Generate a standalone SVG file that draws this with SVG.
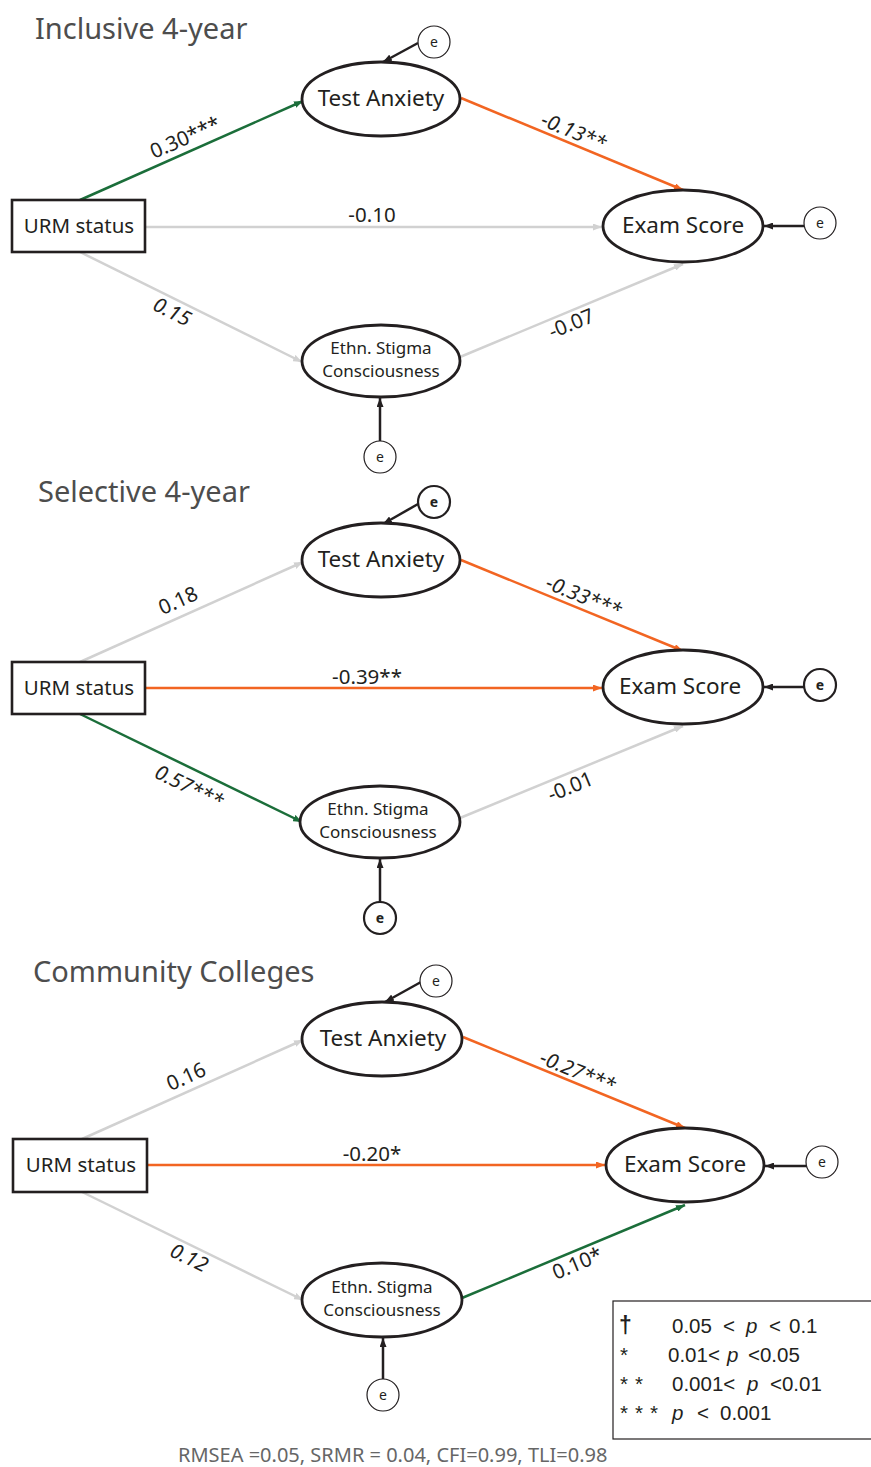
<svg xmlns="http://www.w3.org/2000/svg" width="871" height="1467" viewBox="0 0 871 1467">
<style>
.title{font-family:"Noto Sans",sans-serif;font-size:29px;fill:#4d4d4d}
.nd{fill:#fff;stroke:#231f20;stroke-width:2.8}
.box{fill:#fff;stroke:#231f20;stroke-width:2.6}
.lbl{font-family:"Noto Sans",sans-serif;font-size:22.5px;fill:#231f20;text-anchor:middle}
.urm{font-family:"Noto Sans",sans-serif;font-size:20.5px;fill:#231f20;text-anchor:middle}
.sm{font-family:"Noto Sans",sans-serif;font-size:17px;fill:#231f20;text-anchor:middle}
.ec{fill:#fff;stroke:#231f20;stroke-width:1.2}
.ecb{fill:#fff;stroke:#231f20;stroke-width:2.2}
.et{font-family:"Noto Sans",sans-serif;font-size:14px;fill:#231f20;text-anchor:middle}
.etb{font-family:"Noto Sans",sans-serif;font-size:14px;font-weight:bold;fill:#231f20;text-anchor:middle}
.coef{font-family:"Noto Sans",sans-serif;font-size:20.5px;fill:#231f20;text-anchor:middle}
.it{font-style:italic}
.g{stroke:#1b6e3a;stroke-width:2.5;fill:none;marker-end:url(#ag)}
.o{stroke:#f26522;stroke-width:2.5;fill:none;marker-end:url(#ao)}
.n{stroke:#d1d1d1;stroke-width:2.5;fill:none;marker-end:url(#an)}
.k{stroke:#231f20;stroke-width:2.5;fill:none;marker-end:url(#ak)}
.lg{font-family:"Liberation Sans",Arial,sans-serif;font-size:20.5px;fill:#231f20}
.foot{font-family:"Noto Sans",sans-serif;font-size:20px;fill:#666}
</style>
<defs>
<marker id="ag" markerUnits="userSpaceOnUse" markerWidth="9" markerHeight="7" refX="9" refY="3.5" orient="auto"><path d="M0,0 L9,3.5 L0,7 z" fill="#1b6e3a"/></marker>
<marker id="ao" markerUnits="userSpaceOnUse" markerWidth="9" markerHeight="7" refX="9" refY="3.5" orient="auto"><path d="M0,0 L9,3.5 L0,7 z" fill="#f26522"/></marker>
<marker id="an" markerUnits="userSpaceOnUse" markerWidth="9" markerHeight="7" refX="9" refY="3.5" orient="auto"><path d="M0,0 L9,3.5 L0,7 z" fill="#d1d1d1"/></marker>
<marker id="ak" markerUnits="userSpaceOnUse" markerWidth="9" markerHeight="7" refX="9" refY="3.5" orient="auto"><path d="M0,0 L9,3.5 L0,7 z" fill="#231f20"/></marker>
</defs>
<rect width="871" height="1467" fill="#fff"/>

<g id="titles">
<text class="title" x="35" y="39">Inclusive 4-year</text>
<text class="title" x="38" y="502">Selective 4-year</text>
<text class="title" x="33" y="982">Community Colleges</text>
</g>

<g id="connectors">
<!-- panel 1 -->
<line class="g" x1="80" y1="200" x2="303" y2="101"/>
<line class="o" x1="461" y1="98" x2="683" y2="190"/>
<line class="n" x1="145" y1="227" x2="602" y2="227"/>
<line class="n" x1="80" y1="252" x2="302" y2="362"/>
<line class="n" x1="460" y1="357" x2="683" y2="264"/>
<line class="k" x1="418" y1="43" x2="383" y2="62"/>
<line class="k" x1="804" y1="226" x2="764" y2="226"/>
<line class="k" x1="380" y1="441" x2="380" y2="398"/>
<!-- panel 2 -->
<line class="n" x1="80" y1="662" x2="303" y2="562"/>
<line class="o" x1="461" y1="560" x2="683" y2="651"/>
<line class="o" x1="145" y1="688" x2="602" y2="688"/>
<line class="g" x1="80" y1="714" x2="302" y2="822"/>
<line class="n" x1="460" y1="818" x2="683" y2="726"/>
<line class="k" x1="418" y1="504" x2="383" y2="524"/>
<line class="k" x1="804" y1="687" x2="764" y2="687"/>
<line class="k" x1="380" y1="902" x2="380" y2="859"/>
<!-- panel 3 -->
<line class="n" x1="82" y1="1139" x2="303" y2="1040"/>
<line class="o" x1="463" y1="1037" x2="685" y2="1128"/>
<line class="o" x1="147" y1="1165" x2="605" y2="1165"/>
<line class="n" x1="82" y1="1192" x2="303" y2="1300"/>
<line class="g" x1="462" y1="1298" x2="685" y2="1205"/>
<line class="k" x1="421" y1="982" x2="385" y2="1002"/>
<line class="k" x1="807" y1="1166" x2="765" y2="1166"/>
<line class="k" x1="383" y1="1379" x2="383" y2="1338"/>
</g>

<g id="coefficients">
<text class="coef" transform="translate(188,144) rotate(-23.9)">0.30***</text>
<text class="coef it" transform="translate(571,138) rotate(22.4)">-0.13**</text>
<text class="coef" x="372" y="222">-0.10</text>
<text class="coef it" transform="translate(169,318) rotate(26.4)">0.15</text>
<text class="coef" transform="translate(574,330) rotate(-22.6)">-0.07</text>

<text class="coef" transform="translate(181,607) rotate(-24.2)">0.18</text>
<text class="coef it" transform="translate(581,603) rotate(22.2)">-0.33***</text>
<text class="coef" x="367" y="684">-0.39**</text>
<text class="coef it" transform="translate(186,793) rotate(25.9)">0.57***</text>
<text class="coef" transform="translate(573,793) rotate(-22.4)">-0.01</text>

<text class="coef" transform="translate(189,1083) rotate(-24.1)">0.16</text>
<text class="coef it" transform="translate(575,1078) rotate(22.2)">-0.27***</text>
<text class="coef" x="372" y="1161">-0.20*</text>
<text class="coef it" transform="translate(186,1264) rotate(26)">0.12</text>
<text class="coef" transform="translate(580,1270) rotate(-22.6)">0.10*</text>
</g>

<!-- Panel 1 nodes -->
<g id="p1-urm"><rect class="box" x="12" y="200" width="133" height="52"/><text class="urm" x="79" y="233">URM status</text></g>
<g id="p1-anxiety"><ellipse class="nd" cx="381" cy="99" rx="79" ry="37"/><text class="lbl" x="381" y="106">Test Anxiety</text></g>
<g id="p1-exam"><ellipse class="nd" cx="683" cy="226" rx="80" ry="36"/><text class="lbl" x="683" y="233">Exam Score</text></g>
<g id="p1-stigma"><ellipse class="nd" cx="381" cy="361" rx="79" ry="36"/><text class="sm" x="381" y="354">Ethn. Stigma</text><text class="sm" x="381" y="377">Consciousness</text></g>
<g id="p1-e1"><circle class="ec" cx="434" cy="42" r="16"/><text class="et" x="434" y="47">e</text></g>
<g id="p1-e2"><circle class="ec" cx="820" cy="223" r="16"/><text class="et" x="820" y="228">e</text></g>
<g id="p1-e3"><circle class="ec" cx="380" cy="457" r="16"/><text class="et" x="380" y="462">e</text></g>

<!-- Panel 2 nodes -->
<g id="p2-urm"><rect class="box" x="12" y="662" width="133" height="52"/><text class="urm" x="79" y="695">URM status</text></g>
<g id="p2-anxiety"><ellipse class="nd" cx="381" cy="560" rx="79" ry="37"/><text class="lbl" x="381" y="567">Test Anxiety</text></g>
<g id="p2-exam"><ellipse class="nd" cx="683" cy="687" rx="80" ry="37"/><text class="lbl" x="680" y="694">Exam Score</text></g>
<g id="p2-stigma"><ellipse class="nd" cx="380" cy="822" rx="80" ry="36"/><text class="sm" x="378" y="815">Ethn. Stigma</text><text class="sm" x="378" y="838">Consciousness</text></g>
<g id="p2-e1"><circle class="ecb" cx="434" cy="502" r="16"/><text class="etb" x="434" y="507">e</text></g>
<g id="p2-e2"><circle class="ecb" cx="820" cy="685" r="16"/><text class="etb" x="820" y="690">e</text></g>
<g id="p2-e3"><circle class="ecb" cx="380" cy="918" r="16"/><text class="etb" x="380" y="923">e</text></g>

<!-- Panel 3 nodes -->
<g id="p3-urm"><rect class="box" x="13" y="1139" width="134" height="53"/><text class="urm" x="81" y="1172">URM status</text></g>
<g id="p3-anxiety"><ellipse class="nd" cx="382" cy="1039" rx="80" ry="37"/><text class="lbl" x="383" y="1046">Test Anxiety</text></g>
<g id="p3-exam"><ellipse class="nd" cx="685" cy="1165" rx="79" ry="37"/><text class="lbl" x="685" y="1172">Exam Score</text></g>
<g id="p3-stigma"><ellipse class="nd" cx="382" cy="1300" rx="80" ry="37"/><text class="sm" x="382" y="1293">Ethn. Stigma</text><text class="sm" x="382" y="1316">Consciousness</text></g>
<g id="p3-e1"><circle class="ec" cx="436" cy="981" r="16"/><text class="et" x="436" y="986">e</text></g>
<g id="p3-e2"><circle class="ec" cx="822" cy="1162" r="16"/><text class="et" x="822" y="1167">e</text></g>
<g id="p3-e3"><circle class="ec" cx="383" cy="1395" r="16"/><text class="et" x="383" y="1400">e</text></g>

<g id="legend">
<rect x="613" y="1301" width="270" height="138" fill="#fff" stroke="#231f20" stroke-width="1.2"/>
<text class="lg" y="1333"><tspan x="619" font-weight="bold" font-size="23">†</tspan><tspan x="672">0.05</tspan><tspan x="723">&lt;</tspan><tspan x="746" font-style="italic">p</tspan><tspan x="769">&lt;</tspan><tspan x="789">0.1</tspan></text>
<text class="lg" y="1362"><tspan x="620">*</tspan><tspan x="668">0.01&lt;</tspan><tspan x="727" font-style="italic">p</tspan><tspan x="748">&lt;0.05</tspan></text>
<text class="lg" y="1391"><tspan x="620">*</tspan><tspan x="635">*</tspan><tspan x="672">0.001&lt;</tspan><tspan x="747" font-style="italic">p</tspan><tspan x="770">&lt;0.01</tspan></text>
<text class="lg" y="1420"><tspan x="620">*</tspan><tspan x="635">*</tspan><tspan x="650">*</tspan><tspan x="672" font-style="italic">p</tspan><tspan x="697">&lt;</tspan><tspan x="720">0.001</tspan></text>
</g>

<g id="footer">
<text class="foot" x="178" y="1462">RMSEA =0.05, SRMR = 0.04, CFI=0.99, TLI=0.98</text>
</g>
</svg>
